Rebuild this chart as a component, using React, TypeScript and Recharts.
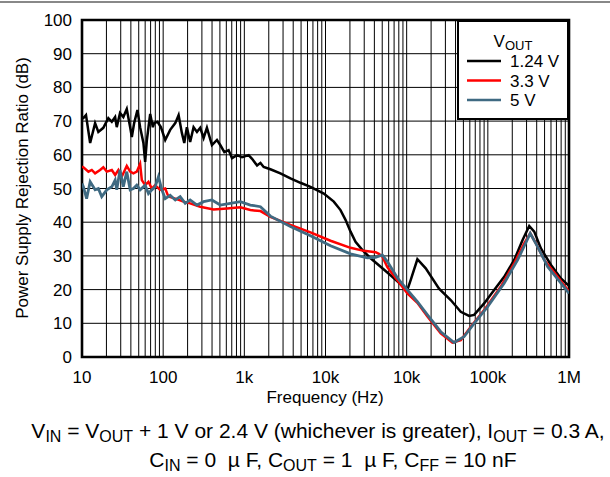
import { CartesianGrid, Legend, Line, LineChart, ReferenceArea, XAxis, YAxis } from 'recharts'

const FONT = '"Liberation Sans", Arial, Helvetica, sans-serif'

// x axis: labels as printed on the original plot, one per decade
const decadeLabels = ['10', '100', '1k', '10k', '10k', '100k', '1M']
const decades = [10, 100, 1e3, 1e4, 1e5, 1e6, 1e7]
const yTicks = [0, 10, 20, 30, 40, 50, 60, 70, 80, 90, 100]

// V_OUT = 1.24 V
const freq124 = [
  10, 10.4, 11.2, 12.6, 14.5, 15.9, 18.3, 21.1, 23.3, 25.6, 26.8, 29.4, 32.3, 35.6, 39.2, 41.1, 43.9, 48.2, 52, 57.1,
  60, 63, 69.2, 74.7, 77.4, 85.1, 93.7, 106, 122, 141, 155, 170, 182, 196, 215, 237, 261, 286, 315, 346, 399, 460,
  505, 567, 640, 705, 812, 937, 1130, 1245, 1435, 1580, 1730, 2094, 2780, 3700, 4910, 6530, 9530, 12650, 15310,
  17650, 20360, 23440, 28370, 35950, 47750, 66500, 88500, 102000, 112000, 135500, 171700, 250500, 349000, 464000,
  588000, 678000, 900000, 1197000, 1589000, 2113000, 2680000, 3235000, 3730000, 4510000, 6000000, 7960000, 10000000
]
const psrr124 = [
  71, 70.9, 71.8, 63.5, 69.4, 66.8, 68, 70.9, 69.8, 71.2, 68.2, 72.4, 71.2, 73.6, 68.2, 65.3, 69.4, 73.3, 68.2, 63.5,
  57.9, 64.4, 72.1, 68.2, 69.4, 69.8, 68.2, 64.4, 67.4, 69.4, 71.8, 66.5, 63.5, 68.2, 63.8, 68.2, 66.8, 68, 65, 68,
  62.9, 64.4, 62.9, 60.8, 61.4, 59, 59.9, 59.3, 59.9, 58.8, 56.8, 57.6, 56.4, 55.7, 54.5, 53, 51.7, 50.5, 48.5, 46.1,
  43.6, 40.7, 37.2, 34.2, 31.8, 29.3, 26.8, 23.8, 21.1, 19.9, 22.8, 29, 26.3, 20.3, 16.9, 13.4, 12.2, 12.5, 15.9,
  19.9, 23.8, 28.8, 34.7, 38.9, 37.2, 32.2, 27.3, 23.3, 21.1
]

// V_OUT = 3.3 V
const freq33 = [
  10, 10.4, 12, 13.2, 14.5, 16.7, 18.3, 20.2, 23.3, 25.6, 28.1, 30.9, 35.6, 39.2, 43, 47.3, 52, 54.6, 60, 65.9, 72.5,
  79.6, 91.8, 106, 116, 141, 178, 215, 286, 418, 611, 893, 1186, 1580, 2094, 3700, 6530, 11530, 20360, 29720, 41400,
  45500, 50100, 57800, 76800, 102000, 135500, 180300, 263000, 366000, 464000, 617000, 900000, 1445000, 2113000,
  2807000, 3330000, 3920000, 4960000, 7240000, 10000000
]
const psrr33 = [
  56.5, 56.3, 55, 55.5, 54.5, 55.5, 56.3, 55, 55.5, 54, 55.5, 53.5, 56.7, 55, 54.5, 55, 57.3, 52.5, 51, 52, 50, 51,
  49.6, 50, 47.6, 47, 46.1, 45.6, 44.6, 43.8, 44.1, 44.4, 43.6, 43.3, 41.6, 39.2, 37, 34.5, 32.4, 31.5, 31.1, 30.6,
  29.8, 26.7, 22.8, 18.9, 16.1, 12, 7, 4.3, 5, 9, 13.9, 20.9, 27.8, 33.7, 36.7, 33.7, 28.8, 23.8, 19.4
]

// V_OUT = 5 V
const freq5 = [
  10, 10.4, 11.4, 12.6, 14.5, 15.9, 17.5, 20.2, 23.3, 25.6, 26.8, 29.4, 32.3, 35.6, 39.2, 43, 47.3, 52, 60, 65.9,
  72.5, 79.6, 87.5, 96.3, 106, 122, 141, 162, 187, 215, 261, 315, 399, 505, 671, 893, 1186, 1580, 2094, 3700, 6530,
  11530, 20360, 32700, 41400, 50100, 57800, 76800, 102000, 135500, 180300, 263000, 384000, 509000, 678000, 991000,
  1589000, 2330000, 3330000, 4110000, 5460000, 7960000, 10000000
]
const psrr5 = [
  51.5, 50.5, 47, 52, 49.6, 50, 47.6, 49.6, 50.5, 52.5, 49.6, 55.5, 50.5, 55, 49.6, 50, 51, 49.6, 51, 48.5, 49.6,
  50.5, 53.5, 49.6, 47, 48, 46.6, 47.6, 45.6, 46.6, 45.1, 46.1, 46.6, 45.1, 45.6, 46.1, 45.1, 44.6, 41.8, 38.7, 36,
  33, 30.6, 29.4, 29.6, 30.3, 28.3, 23.5, 19.9, 16.4, 12.5, 7.5, 4.3, 6, 10, 14.9, 21.9, 28.8, 36.7, 32.7, 26.8,
  21.9, 18.9
]

const toPoints = (freq: number[], psrr: number[]) => freq.map((f, i) => ({ f, psrr: psrr[i] }))

const series = [
  { name: '1.24 V', color: '#000000', width: 2.5, data: toPoints(freq124, psrr124) },
  { name: '3.3 V', color: '#ff0000', width: 2.5, data: toPoints(freq33, psrr33) },
  { name: '5 V', color: '#3f6a82', width: 2.8, data: toPoints(freq5, psrr5) }
]

// every 1..9 x 10^k line of the log grid
const gridFreqs = decades.flatMap((d, i) =>
  i === decades.length - 1 ? [d] : [1, 2, 3, 4, 5, 6, 7, 8, 9].map((m) => m * d)
)

function formatFreq(v: number) {
  const i = decades.findIndex((d) => Math.abs(d - v) / d < 1e-6)
  return i >= 0 ? decadeLabels[i] : ''
}

function VoutLegend({ payload }: any) {
  const items = payload || []
  return (
    <svg width={112} height={100} style={{ display: 'block', fontFamily: FONT }}>
      <rect x={1} y={1} width={110} height={98} fill="#fff" stroke="#000" strokeWidth={2} />
      <text x={56} y={27} textAnchor="middle" fontSize={17} fill="#000">
        V<tspan fontSize={13} dy={3}>OUT</tspan>
      </text>
      {items.map((entry: any, i: number) => (
        <g key={entry.value}>
          <line x1={10} x2={44} y1={41 + i * 19.5} y2={41 + i * 19.5} stroke={entry.color} strokeWidth={2.4} />
          <text x={53} y={47 + i * 19.5} fontSize={17} fill="#000">{entry.value}</text>
        </g>
      ))}
    </svg>
  )
}

const tickStyle = { fontSize: 17, fill: '#000', fontFamily: FONT }

export default function App() {
  return (
    <div style={{ position: 'relative', width: 610, height: 477, background: '#fff', fontFamily: FONT }}>
      <style>{'body{margin:0}'}</style>
      <LineChart width={610} height={477} margin={{ top: 20, right: 41, bottom: 90, left: 22 }}>
        <CartesianGrid stroke="#000" strokeWidth={1} />
        <XAxis
          dataKey="f"
          type="number"
          scale="log"
          domain={[10, 1e7]}
          ticks={gridFreqs}
          interval={0}
          tickFormatter={formatFreq}
          tick={tickStyle}
          tickLine={false}
          axisLine={false}
          tickMargin={8}
          height={30}
          allowDataOverflow
        />
        <YAxis
          type="number"
          domain={[0, 100]}
          ticks={yTicks}
          interval={0}
          tick={tickStyle}
          tickLine={false}
          axisLine={false}
          tickMargin={4}
          width={60}
        />
        <ReferenceArea x1={10} x2={1e7} y1={0} y2={100} fill="none" stroke="#000" strokeWidth={2.6} />
        {series.map((s) => (
          <Line
            key={s.name}
            data={s.data}
            dataKey="psrr"
            name={s.name}
            type="linear"
            stroke={s.color}
            strokeWidth={s.width}
            dot={false}
            isAnimationActive={false}
          />
        ))}
        <Legend
          layout="vertical"
          align="center"
          verticalAlign="middle"
          content={<VoutLegend />}
          wrapperStyle={{ position: 'absolute', left: 457, top: 20, width: 112, height: 100 }}
        />
      </LineChart>
      <svg
        width={610}
        height={477}
        style={{ position: 'absolute', left: 0, top: 0, pointerEvents: 'none', fontFamily: FONT }}
      >
        <line x1={0} x2={610} y1={2} y2={2} stroke="#888" strokeWidth={2} />
        <text x={22} y={188} transform="rotate(-90 22 188)" textAnchor="middle" dominantBaseline="central" fontSize={17} fill="#000">
          Power Supply Rejection Ratio (dB)
        </text>
        <text x={325} y={403} textAnchor="middle" fontSize={17} fill="#000">Frequency (Hz)</text>
        <text x={318} y={438} textAnchor="middle" fontSize={21} fill="#000">
          V<tspan fontSize={16} dy={4}>IN</tspan>
          <tspan dy={-4}> = V</tspan><tspan fontSize={16} dy={4}>OUT</tspan>
          <tspan dy={-4}> + 1 V or 2.4 V (whichever is greater), I</tspan><tspan fontSize={16} dy={4}>OUT</tspan>
          <tspan dy={-4}> = 0.3 A,</tspan>
        </text>
        <text x={333} y={467} textAnchor="middle" fontSize={21} fill="#000" style={{ whiteSpace: 'pre' }}>
          C<tspan fontSize={16} dy={4}>IN</tspan>
          <tspan dy={-4}>{' = 0  \u00b5 F, C'}</tspan><tspan fontSize={16} dy={4}>OUT</tspan>
          <tspan dy={-4}>{' = 1  \u00b5 F, C'}</tspan><tspan fontSize={16} dy={4}>FF</tspan>
          <tspan dy={-4}> = 10 nF</tspan>
        </text>
      </svg>
    </div>
  )
}
